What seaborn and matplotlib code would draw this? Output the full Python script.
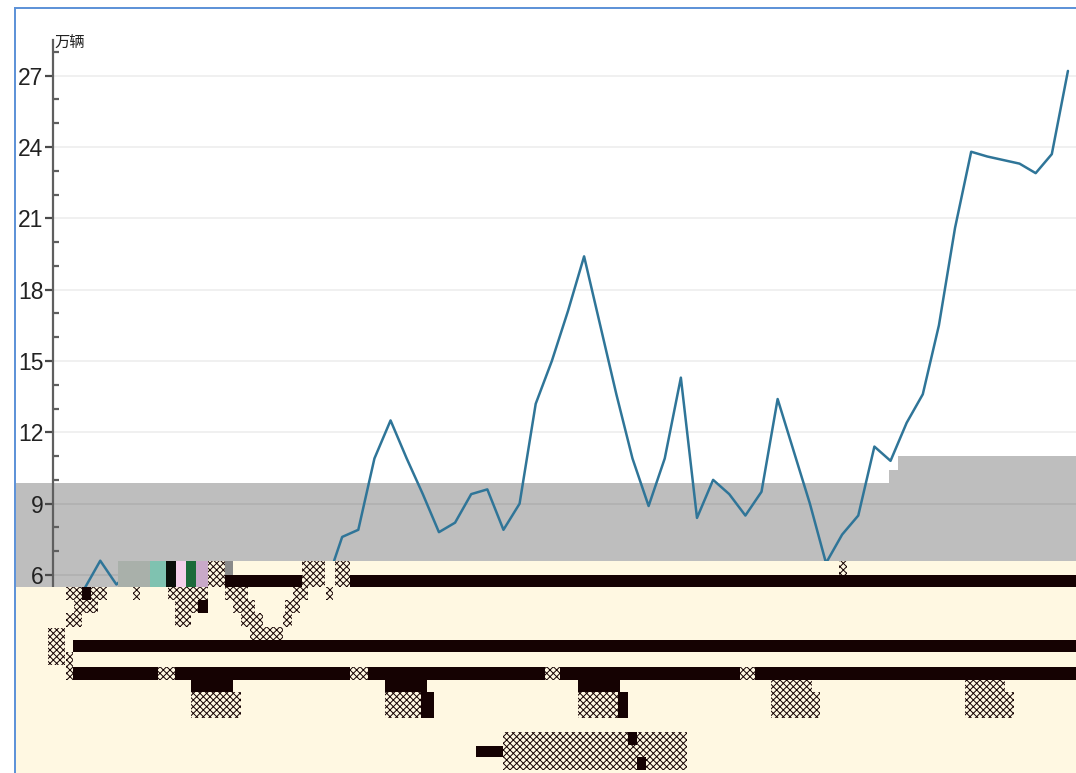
import matplotlib
matplotlib.use("Agg")
import matplotlib.pyplot as plt
from matplotlib.patches import Rectangle
from matplotlib.ticker import MultipleLocator
import numpy as np
import pandas as pd
import seaborn as sns

# Monthly values (万辆); the first 17 sit behind the corrupted part of the
# reference and are estimated from the traces left there.
values_hidden = [3.3, 5.4, 6.6, 5.6, 6.2, 5.9, 6.0, 4.1, 5.4, 6.4, 5.8, 4.5, 3.5, 3.5, 4.9, 6.2, 5.6]
values_visible = [7.6, 7.9, 10.9, 12.5, 10.9, 9.4, 7.8, 8.2, 9.4, 9.6, 7.9, 9.0, 13.2, 15.0, 17.1, 19.4,
                  16.5, 13.6, 10.9, 8.9, 10.9, 14.3, 8.4, 10.0, 9.4, 8.5, 9.5, 13.4, 11.2, 9.0, 6.5, 7.7,
                  8.5, 11.4, 10.8, 12.4, 13.6, 16.5, 20.6, 23.8, 23.6, 23.45, 23.3, 22.9, 23.7, 27.2]
y_ticks = [3, 6, 9, 12, 15, 18, 21, 24, 27]
unit_label = "万辆"

W, H = 1076, 773
sns.set_theme(style="white")
plt.rcParams["font.family"] = ["Liberation Sans", "DejaVu Sans"]
plt.rcParams["hatch.linewidth"] = 0.7

fig = plt.figure(figsize=(W / 100, H / 100), dpi=100, facecolor="white")
ax = fig.add_axes([53 / W, 1 - 646.3 / H, (1076 - 53) / W, (646.3 - 40) / H])
ax.patch.set_visible(False)

series = values_hidden + values_visible
df = pd.DataFrame({"month": np.arange(len(series)), "value": series})
sns.lineplot(data=df, x="month", y="value", ax=ax, color="#2f7598", linewidth=1.8, zorder=3)

ax.set_xlim(-0.93, 62.5)
ax.set_ylim(3, 28.5)
ax.set_yticks(y_ticks)
ax.yaxis.set_minor_locator(MultipleLocator(1))
ax.set_xticks([])
ax.set_xlabel("")
ax.set_ylabel("")
ax.grid(axis="y", color="black", alpha=0.07, linewidth=1.2, zorder=0)
ax.set_axisbelow(True)
for side in ("top", "right", "bottom"):
    ax.spines[side].set_visible(False)
ax.spines["left"].set_color("#5f5f5f")
ax.spines["left"].set_linewidth(1.6)
ax.tick_params(axis="y", which="major", direction="out", length=6, width=1.6, color="#4a4a4a",
               labelsize=16.5, labelcolor="#222222", pad=1, left=True)
ax.tick_params(axis="y", which="minor", direction="in", length=4, width=1.6, color="#5f5f5f", left=True)
fig.text(54 / W, 1 - 43 / H, unit_label, family=["Noto Sans CJK SC", "DejaVu Sans"], fontsize=11,
         color="#222222", va="center", ha="left")


def block(x0, y0, x1, y1, color, z, hatch=None, edge=None):
    fig.add_artist(Rectangle((x0 / W, 1 - y1 / H), (x1 - x0) / W, (y1 - y0) / H, transform=fig.transFigure,
                             facecolor=color, edgecolor=edge if edge else "none", hatch=hatch,
                             linewidth=0, zorder=z))


GREY, CREAM, DARK = "#bebebe", "#fff8e2", "#150202"

# Page frame and the corrupted bands of the reference image
for b in [(15, 483, 1076, 561), (15, 561, 118, 587), (898, 456, 1076, 483), (889, 470, 898, 483)]:
    block(*b, GREY, -1)
block(15, 587, 1076, 773, CREAM, 5)
block(118, 561, 1076, 587, CREAM, 5)
block(13.5, 8, 15.5, 773, "#5f93d8", 9)
block(13.5, 7, 1076, 9, "#5f93d8", 9)

# Solid corrupted strips
solid = [(225, 575, 302, 587), (350, 575, 1076, 587), (73, 640, 1076, 652), (73, 667, 158, 680),
         (175, 667, 350, 680), (368, 667, 545, 680), (560, 667, 740, 680), (755, 667, 1076, 680),
         (191, 680, 233, 692), (385, 680, 427, 692), (578, 680, 620, 692), (421, 692, 434, 718),
         (618, 692, 628, 718), (476, 746, 503, 757), (82, 587, 91, 600), (198, 600, 208, 613),
         (628, 732, 637, 745), (637, 757, 646, 770)]
for b in solid:
    block(*b, DARK, 7)

# Checkered corrupted strips
checker = [(191, 692, 241, 718), (385, 692, 421, 718), (578, 692, 618, 718), (771, 680, 812, 692),
           (771, 692, 820, 718), (965, 680, 1005, 692), (965, 692, 1014, 718), (503, 732, 687, 770),
           (48, 628, 65, 665), (66, 587, 107, 600), (74, 600, 98, 613), (66, 613, 82, 627),
           (168, 587, 208, 600), (175, 600, 198, 613), (175, 613, 191, 627), (225, 587, 248, 600),
           (233, 600, 255, 613), (241, 613, 263, 627), (250, 627, 283, 640), (283, 613, 292, 627),
           (285, 600, 300, 613), (293, 587, 308, 600), (302, 561, 325, 587), (335, 561, 350, 587),
           (133, 587, 140, 600), (326, 587, 333, 600), (839, 561, 847, 575), (158, 667, 175, 680),
           (350, 667, 368, 680), (545, 667, 560, 680), (740, 667, 755, 680), (66, 652, 73, 680),
           (208, 561, 225, 587)]
for b in checker:
    block(*b, CREAM, 6.5, hatch="xxxxx", edge=DARK)

# Noisy patch above the first years
noise = [(118, 561, 150, 587, "#a9b0aa"), (150, 561, 166, 587, "#7fc2b0"), (166, 561, 176, 587, "#0a0f0a"),
         (176, 561, 186, 587, "#f3d0ea"), (186, 561, 196, 587, "#1b6a3a"), (196, 561, 208, 587, "#c9a9c9"),
         (225, 561, 233, 575, "#8a8a8a")]
for x0, y0, x1, y1, c in noise:
    block(x0, y0, x1, y1, c, 6.6)

fig.savefig("out.png", dpi=100)
